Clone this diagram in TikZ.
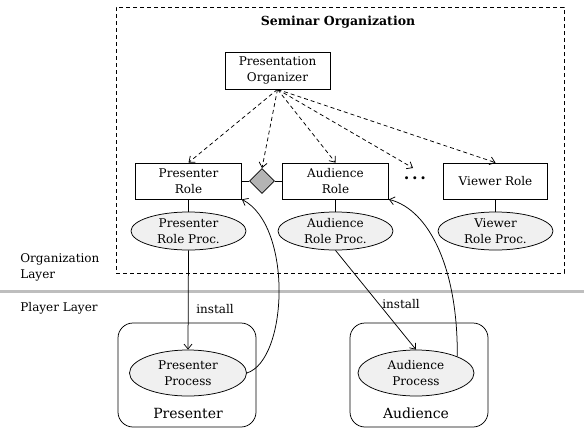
\documentclass[tikz,border=0pt]{standalone}
\usepackage{fontspec}
\setmainfont{DejaVu Serif}
\usetikzlibrary{shapes.geometric,arrows.meta}
\definecolor{procfill}{RGB}{240,240,240}
\definecolor{diafill}{RGB}{180,180,180}
\definecolor{layerline}{RGB}{190,190,190}
\begin{document}
\begin{tikzpicture}[x=1pt,y=-1pt,
  font=\fontsize{12}{16}\selectfont,
  line width=0.75pt,
  tip/.style={-{Straight Barb[length=5pt,width=8pt]}},
  dasharr/.style={tip, dash pattern=on 4pt off 3pt},
  box/.style={draw, minimum width=106pt, minimum height=36pt, align=center, inner sep=0pt},
  proc/.style={draw, ellipse, fill=procfill, minimum width=115pt, minimum height=38pt, inner sep=0pt, align=center},
  player/.style={draw, rounded corners=15pt, minimum width=138pt, minimum height=104pt, inner sep=0pt},
  lbl/.style={inner sep=0pt},
]
\useasboundingbox (0,0) rectangle (584,429);

% organization frame
\node[draw, dash pattern=on 4pt off 3pt, minimum width=448pt, minimum height=266pt, inner sep=0pt] (seminar) at (340,140) {};
\node[lbl, font=\fontsize{12.5}{16}\selectfont\bfseries] (title) at (338,22) {Seminar Organization};

\node[box, minimum width=105pt, minimum height=37pt] (org) at (277.5,70.5) {Presentation\\Organizer};

\node[box] (pr) at (188.5,181) {Presenter\\Role};
\node[draw, diamond, fill=diafill, minimum width=25pt, minimum height=25pt, inner sep=0pt] (dia) at (262,181) {};
\node[box] (ar) at (335.5,181) {Audience\\Role};
\node[lbl, font=\fontsize{16}{16}\selectfont\bfseries] (dots) at (415,178.5) {.\,.\,.};
\coordinate (dotstop) at (413,168);
\node[box, minimum width=104pt] (vr) at (495.5,181) {Viewer Role};

\node[proc] (prp) at (188.5,231) {Presenter\\Role Proc.};
\node[proc] (arp) at (335.5,231) {Audience\\Role Proc.};
\node[proc] (vrp) at (495.5,231) {Viewer\\Role Proc.};

\draw (pr.south) -- (prp.north);
\draw (ar.south) -- (arp.north);
\draw (vr.south) -- (vrp.north);
\draw (pr.east) -- (dia.west);
\draw (dia.east) -- (ar.west);

\draw[dasharr] (org.south) -- (pr.north);
\draw[dasharr] (org.south) -- (dia.north);
\draw[dasharr] (org.south) -- (ar.north);
\draw[dasharr] (org.south) -- (dotstop);
\draw[dasharr] (org.south) -- (vr.north);

% layer separator
\coordinate (sepl) at (0,291);
\coordinate (sepr) at (584,291);
\draw[line width=3pt, layerline] (sepl) -- (sepr);
\node[lbl, align=left, anchor=west] (orglayer) at (20,267.5) {Organization\\Layer};
\node[lbl, anchor=west] (playerlayer) at (20,308) {Player Layer};

% players
\node[player] (pbox) at (187,375) {};
\node[player] (abox) at (419,375) {};
\node[proc, minimum width=117pt, minimum height=46pt] (pp) at (188,373) {Presenter\\Process};
\node[proc, minimum width=116pt, minimum height=46pt] (ap) at (416,373) {Audience\\Process};
\node[lbl, font=\fontsize{14}{16}\selectfont] (pname) at (188,413) {Presenter};
\node[lbl, font=\fontsize{14}{16}\selectfont] (aname) at (416,413) {Audience};

\draw[tip] (prp.south) -- (pp.north);
\node[lbl] (inst1) at (215,309) {install};
\draw[tip] (arp.south) -- (ap.north);
\node[lbl] (inst2) at (401,304) {install};

\draw[tip] (pp.east) .. controls (288,360) and (293,226) .. (pr.south east);
\draw[tip] (ap.north east) .. controls (458,270) and (430,210) .. (ar.south east);
\end{tikzpicture}
\end{document}
